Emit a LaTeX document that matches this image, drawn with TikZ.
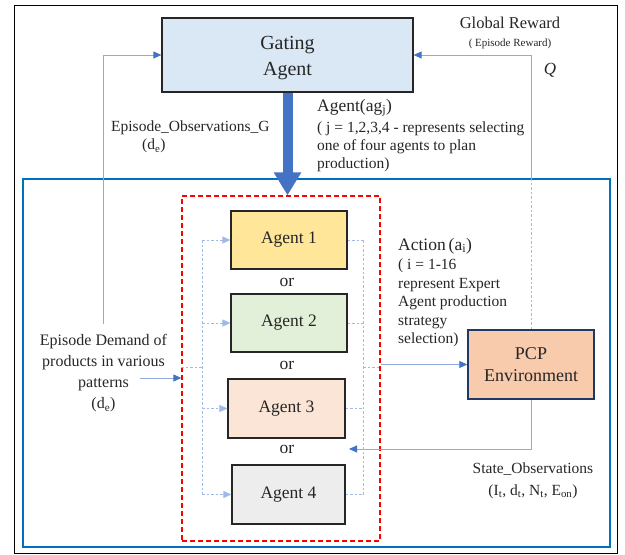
\documentclass[tikz,border=0pt]{standalone}
\usepackage{fontspec}
\setmainfont{Liberation Serif}
\usetikzlibrary{positioning,arrows.meta}

\definecolor{gatefill}{RGB}{218,232,245}
\definecolor{ag1fill}{RGB}{255,230,153}
\definecolor{ag2fill}{RGB}{226,240,217}
\definecolor{ag3fill}{RGB}{251,229,214}
\definecolor{ag4fill}{RGB}{237,237,237}
\definecolor{pcpfill}{RGB}{248,203,173}
\definecolor{pcpedge}{RGB}{31,56,100}
\definecolor{frameblue}{RGB}{0,112,192}
\definecolor{arrowblue}{RGB}{68,114,196}
\definecolor{lineblue}{RGB}{143,170,220}
\definecolor{dotblue}{RGB}{160,185,230}
\definecolor{ink}{RGB}{38,38,38}

\begin{document}
\begin{tikzpicture}[x=1pt,y=-1pt,text=ink,
    agent/.style={draw=ink,line width=1.2pt,minimum width=116pt,
      minimum height=58pt,inner sep=0pt,font=\fontsize{17.5}{20}\selectfont},
    lbl/.style={inner sep=0pt,font=\fontsize{15.5}{18}\selectfont},
    fb/.style={draw=lineblue,line width=0.9pt,
      -{Triangle[length=8pt,width=7pt,color=arrowblue]}},
    dotline/.style={draw=dotblue,line width=0.8pt,dash pattern=on 2.5pt off 2pt}]
  % \draw[help lines] (0,0) grid[step=50] (625,555);
  \useasboundingbox (0,0) rectangle (625,555);
  \draw[line width=0.8pt] (14,5) rectangle (617,553);
  \draw[frameblue,line width=2pt] (23,179) rectangle (610,547);
  \coordinate (fr_top) at (0,179);

  \node[draw=ink,line width=1.2pt,fill=gatefill,minimum width=251pt,
    minimum height=74pt,align=center,font=\fontsize{20}{26}\selectfont]
    (gate) at (287.5,55) {\rule{0pt}{20pt}Gating\\Agent};
  \node[draw=red,dash pattern=on 5pt off 3pt,line width=1.3pt,
    minimum width=198pt,minimum height=345pt] (pool) at (281,368.5) {};

  \node[agent,fill=ag1fill] (ag_1) at (289,240) {Agent 1};
  \node[agent,fill=ag2fill] (ag_2) at (289,323) {Agent 2};
  \node[agent,fill=ag3fill,minimum width=117pt,minimum height=59pt]
    (ag_3) at (286.5,408.5) {Agent 3};
  \node[agent,fill=ag4fill,minimum width=113pt,minimum height=59pt]
    (ag_4) at (288.5,494.5) {Agent 4};
  \foreach \y/\n in {282/1,365/2,449/3}
    \node[inner sep=0pt,font=\fontsize{17.5}{20}\selectfont] (or_\n) at (287,\y) {or};

  \node[draw=pcpedge,line width=1.5pt,fill=pcpfill,minimum width=126pt,
    minimum height=69pt,align=center,font=\fontsize{18}{22}\selectfont]
    (pcp) at (531,364.5) {PCP\\Environment};

  \node[align=center,inner sep=0pt,font=\fontsize{16}{21}\selectfont]
    (demand) at (103.5,373) {Episode Demand of\\products in various\\patterns\\(d\textsubscript{e})};

  % labels
  \node[lbl,font=\fontsize{16.5}{18}\selectfont] (glob) at (510,23) {Global Reward};
  \node[lbl,font=\fontsize{11}{12}\selectfont] (ep_rew) at (510,44) {( Episode Reward)};
  \node[lbl,font=\fontsize{17}{20}\selectfont\itshape] (q) at (550,70) {Q};
  \node[lbl,anchor=north west,align=left] (obs_g) at (111,121)
    {Episode\_Observations\_G\\\hspace{31pt}(d\textsubscript{e})};
  \node[lbl,anchor=north west,align=left] (sel) at (317,99)
    {{\fontsize{17.5}{20}\selectfont Agent(ag\textsubscript{j})}\\[3pt]( j = 1,2,3,4 - represents selecting\\one of four agents to plan\\production)};
  \node[lbl,anchor=north west,align=left,font=\fontsize{15.5}{18.5}\selectfont]
    (act) at (398,238)
    {{\fontsize{17.5}{20}\selectfont Action\,(a\textsubscript{i})}\\[1pt]( i = 1-16\\represent Expert\\Agent production\\strategy\\selection)};
  \node[lbl,align=center,font=\fontsize{15.5}{22}\selectfont] (st_obs) at (533,481)
    {State\_Observations\\(I\textsubscript{t}, d\textsubscript{t}, N\textsubscript{t}, E\textsubscript{on})};

  % gating choice
  \draw[arrowblue,line width=10pt,-{Triangle[length=23pt,width=26pt]}]
    (gate.south) -- (gate.south |- pool.north);

  % feedback loops
  \draw[fb] ([yshift=10pt]demand.north) |- (gate.west);
  \draw[dotline] (pcp.north) -- (pcp.north |- fr_top);
  \draw[fb] (pcp.north |- fr_top) |- (gate.east);
  \coordinate (dm_out) at (140,378);
  \draw[fb] (dm_out) -- (pool.west |- dm_out);
  \draw[fb] (pool.east |- pcp.west) -- (pcp.west);
  \coordinate (st_in) at (349,449);
  \draw[fb] (pcp.south) |- (st_in);

  % inputs and outputs of the agents
  \coordinate (in_x) at (202,367);
  \coordinate (out_x) at (363,367);
  \draw[dotline] (pool.west |- in_x) -- (in_x);
  \draw[dotline] (ag_1.west -| in_x) -- (ag_4.west -| in_x);
  \draw[dotline] (ag_1.east -| out_x) -- (ag_4.east -| out_x);
  \draw[dotline] (out_x) -- (pool.east |- out_x);
  \foreach \a in {1,...,4} {
    \draw[dotline,-{Triangle[length=8pt,width=7pt]}] (ag_\a.west -| in_x) -- (ag_\a.west);
    \draw[dotline] (ag_\a.east) -- (ag_\a.east -| out_x);
  }
\end{tikzpicture}
\end{document}
